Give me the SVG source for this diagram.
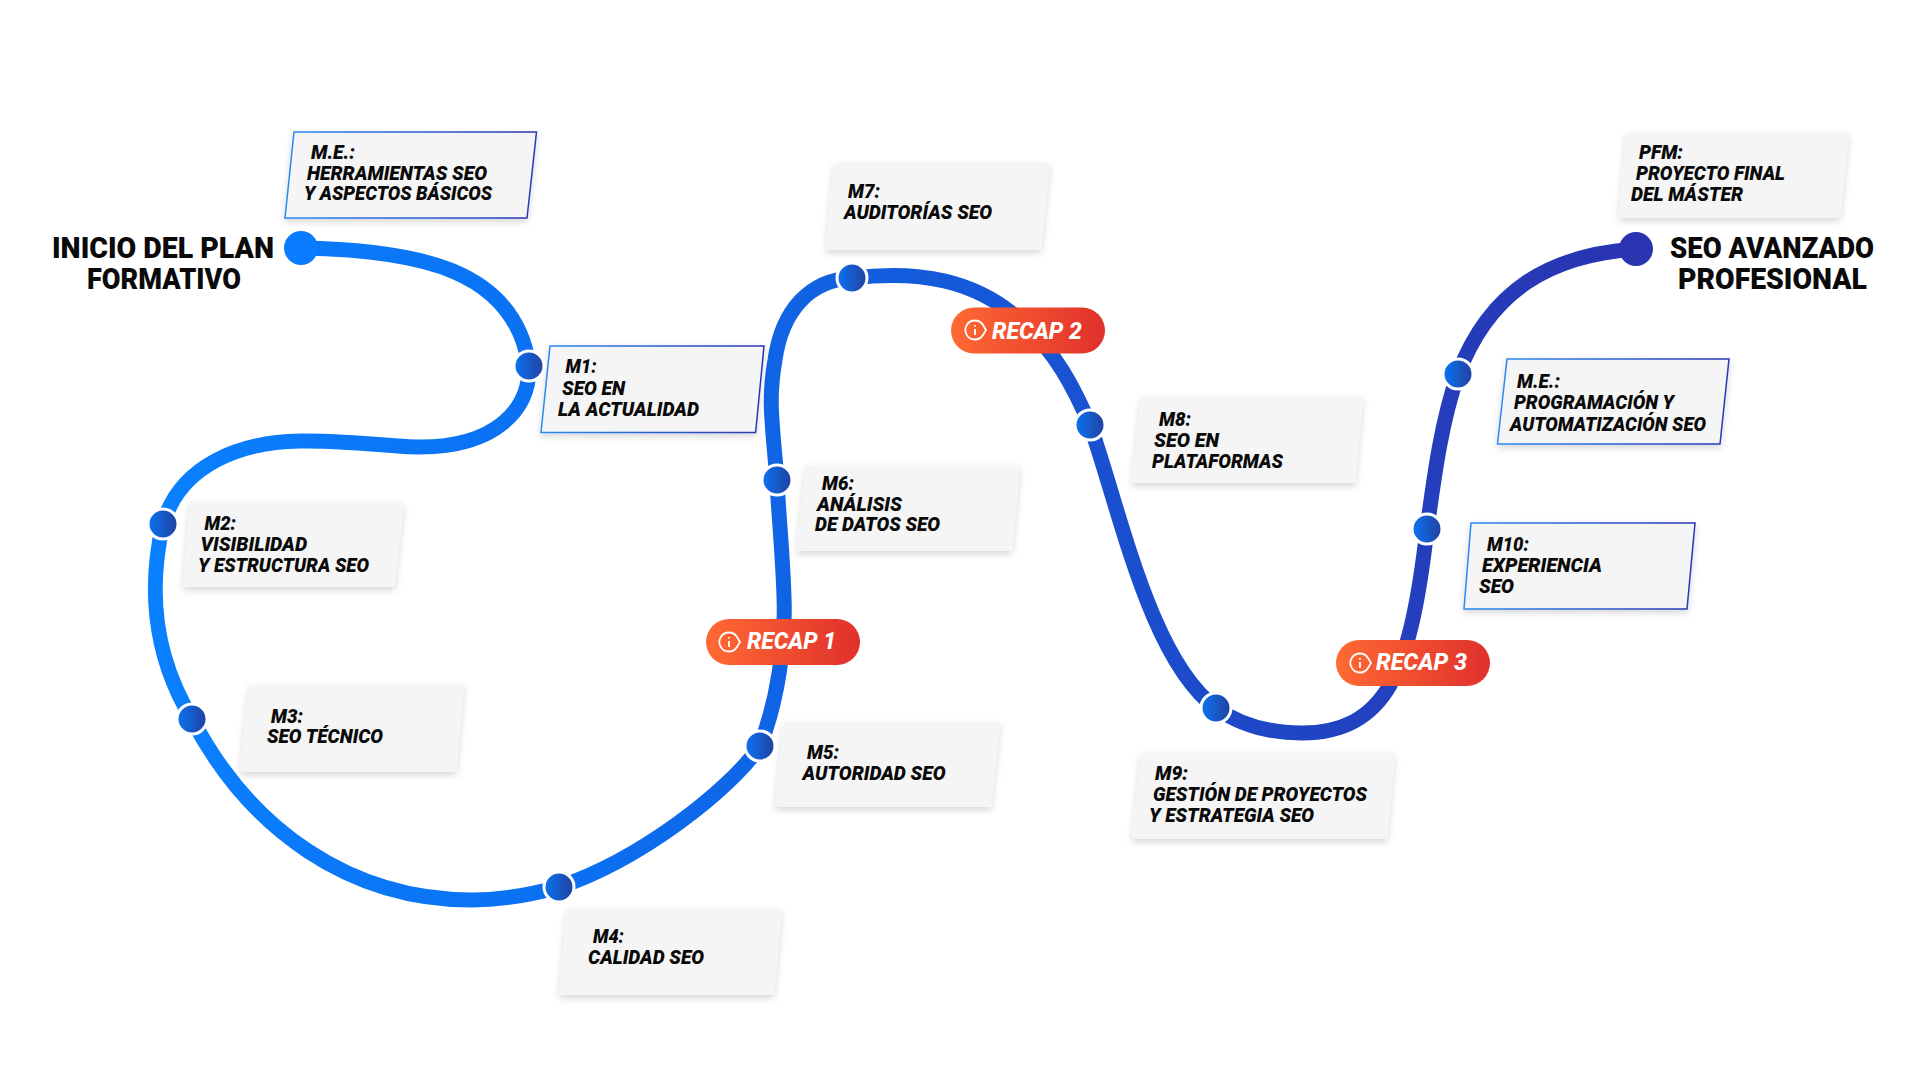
<svg xmlns="http://www.w3.org/2000/svg" width="1921" height="1081" viewBox="0 0 1921 1081">
<style>
.bg{fill:#fff}
.card{fill:#f5f5f5;filter:url(#sh)}
.bd{fill:#f5f5f5;stroke:url(#bg);stroke-width:1.5;filter:url(#sh)}
.l{font-family:Roboto,"Liberation Sans",sans-serif;font-weight:900;font-style:italic;font-size:20px;fill:#0a0a0a}
.t{font-family:Roboto,"Liberation Sans",sans-serif;font-weight:900;font-size:29px;fill:#0a0a0a;text-anchor:start}
.r{font-family:Roboto,"Liberation Sans",sans-serif;font-weight:800;font-style:italic;font-size:23px;fill:#fff}
.dot{fill:url(#dg);stroke:#fff;stroke-width:3}
.pill{fill:url(#pg)}
.ic{fill:none;stroke:#fff;stroke-width:1.8}
</style>
<defs>
<linearGradient id="lg" gradientUnits="userSpaceOnUse" x1="150" y1="0" x2="1640" y2="0"><stop offset="0" stop-color="#0a80ff"/><stop offset=".3" stop-color="#0a6ff0"/><stop offset=".65" stop-color="#1a4fcf"/><stop offset="1" stop-color="#2a33b0"/></linearGradient>
<linearGradient id="dg" x1="0" y1="0" x2="1" y2="0"><stop offset="0" stop-color="#0a74f2"/><stop offset="1" stop-color="#23409f"/></linearGradient>
<linearGradient id="pg" x1="0" y1="0" x2="1" y2="0"><stop offset="0" stop-color="#ff6a33"/><stop offset="1" stop-color="#e0302c"/></linearGradient>
<linearGradient id="bg" x1="0" y1="0" x2="1" y2="0"><stop offset="0" stop-color="#2a8af0"/><stop offset="1" stop-color="#2a35b5"/></linearGradient>
<filter id="sh" x="-10%" y="-15%" width="120%" height="135%"><feDropShadow dx="0" dy="3" stdDeviation="3.5" flood-color="#000" flood-opacity=".16"/></filter>
</defs>
<rect class="bg" width="1921" height="1081"/>
<g id="connectors">
<path fill="none" stroke="url(#lg)" stroke-width="15" stroke-linecap="round" d="M301 248C420 250 515 270 529 366C530 410 495 447 420 447C390 447 350 440 300 441C240 442 180 465 163 524C150 580 150 650 192 719C250 830 350 900 472 900C500 900 530 895 559 887C640 860 730 790 760 746C770 720 782 680 784 620C786 590 778 510 777 480C772 420 768 400 775 360C782 310 810 280 852 278C920 270 975 280 1020 320C1055 350 1075 390 1090 425C1120 510 1150 660 1216 708C1240 725 1270 733 1302 733C1340 733 1370 720 1390 685C1410 650 1420 590 1427 529C1435 470 1442 420 1458 374C1490 290 1550 255 1636 249"/>
</g>
<g id="start"><circle cx="301" cy="248" r="17" fill="#0a7cff"/>
<text class="t" x="52" y="258" textLength="222" lengthAdjust="spacingAndGlyphs">INICIO DEL PLAN</text><text class="t" x="87" y="289" textLength="154" lengthAdjust="spacingAndGlyphs">FORMATIVO</text></g>
<g id="end"><circle cx="1636" cy="249" r="17" fill="#2a33b0"/>
<text class="t" x="1670" y="258" textLength="204" lengthAdjust="spacingAndGlyphs">SEO AVANZADO</text><text class="t" x="1678" y="289" textLength="189" lengthAdjust="spacingAndGlyphs">PROFESIONAL</text></g>
<g id="me1"><polygon class="bd" points="294,132 536.5,132 527,218 285,218"/>
<text class="l" x="311" y="159" textLength="44" lengthAdjust="spacingAndGlyphs">M.E.:</text><text class="l" x="307" y="180" textLength="180" lengthAdjust="spacingAndGlyphs">HERRAMIENTAS SEO</text><text class="l" x="304" y="200" textLength="188" lengthAdjust="spacingAndGlyphs">Y ASPECTOS BÁSICOS</text></g>
<g id="m1"><polygon class="bd" points="550,346 764,346 755.6,432.5 541,432.5"/><circle class="dot" cx="529" cy="366" r="15"/>
<text class="l" x="565.6" y="373" textLength="31" lengthAdjust="spacingAndGlyphs">M1:</text><text class="l" x="562" y="395" textLength="63" lengthAdjust="spacingAndGlyphs">SEO EN</text><text class="l" x="558" y="416" textLength="141" lengthAdjust="spacingAndGlyphs">LA ACTUALIDAD</text></g>
<g id="m2"><polygon class="card" points="190,502 404,502 394.5,587 183,587"/><circle class="dot" cx="163" cy="524" r="15"/>
<text class="l" x="204.5" y="530" textLength="31.5" lengthAdjust="spacingAndGlyphs">M2:</text><text class="l" x="200.6" y="551" textLength="106.6" lengthAdjust="spacingAndGlyphs">VISIBILIDAD</text><text class="l" x="198" y="572" textLength="171" lengthAdjust="spacingAndGlyphs">Y ESTRUCTURA SEO</text></g>
<g id="m3"><polygon class="card" points="249,685 464,685 456,772 240,772"/><circle class="dot" cx="192" cy="719" r="15"/>
<text class="l" x="271" y="722.5" textLength="32" lengthAdjust="spacingAndGlyphs">M3:</text><text class="l" x="267" y="743" textLength="116" lengthAdjust="spacingAndGlyphs">SEO TÉCNICO</text></g>
<g id="m4"><polygon class="card" points="567,909 782,909 774,995 559,995"/><circle class="dot" cx="559" cy="887" r="15"/>
<text class="l" x="593" y="943" textLength="31" lengthAdjust="spacingAndGlyphs">M4:</text><text class="l" x="588" y="964" textLength="116" lengthAdjust="spacingAndGlyphs">CALIDAD SEO</text></g>
<g id="m5"><polygon class="card" points="784,722 1000,722 991,807 775,807"/><circle class="dot" cx="760" cy="746" r="15"/>
<text class="l" x="807" y="759" textLength="32" lengthAdjust="spacingAndGlyphs">M5:</text><text class="l" x="802.5" y="780" textLength="143" lengthAdjust="spacingAndGlyphs">AUTORIDAD SEO</text></g>
<g id="recap1"><rect class="pill" x="706" y="619" width="154" height="46" rx="23"/>
<path class="ic" d="M729 632.5a9.5 9.5 0 0 1 8 4.5l3 5l-3 5a9.5 9.5 0 1 1-8-14.500z"/><path class="ic" d="M729 641v6M729 637v1.500"/>
<text class="r" x="747" y="649" textLength="89" lengthAdjust="spacingAndGlyphs">RECAP 1</text></g>
<g id="m6"><polygon class="card" points="806,465.500 1020,465.500 1012,551 797,551"/><circle class="dot" cx="777" cy="480" r="15"/>
<text class="l" x="822" y="490" textLength="32" lengthAdjust="spacingAndGlyphs">M6:</text><text class="l" x="817" y="510.500" textLength="85" lengthAdjust="spacingAndGlyphs">ANÁLISIS</text><text class="l" x="815" y="531" textLength="125" lengthAdjust="spacingAndGlyphs">DE DATOS SEO</text></g>
<g id="m7"><polygon class="card" points="834,163 1050,163 1041,250 826,250"/><circle class="dot" cx="852" cy="278" r="15"/>
<text class="l" x="848" y="198" textLength="32" lengthAdjust="spacingAndGlyphs">M7:</text><text class="l" x="844" y="219" textLength="148" lengthAdjust="spacingAndGlyphs">AUDITORÍAS SEO</text></g>
<g id="recap2"><rect class="pill" x="951" y="307.500" width="154" height="46" rx="23"/>
<path class="ic" d="M975 320.500a9.500 9.500 0 0 1 8 4.500l3 5l-3 5a9.500 9.500 0 1 1-8-14.500z"/><path class="ic" d="M975 329v6M975 325v1.500"/>
<text class="r" x="992" y="339" textLength="90" lengthAdjust="spacingAndGlyphs">RECAP 2</text></g>
<g id="m8"><polygon class="card" points="1141,397 1363,397 1355,483 1132,483"/><circle class="dot" cx="1090" cy="425" r="15"/>
<text class="l" x="1159" y="426" textLength="32" lengthAdjust="spacingAndGlyphs">M8:</text><text class="l" x="1154" y="447" textLength="65" lengthAdjust="spacingAndGlyphs">SEO EN</text><text class="l" x="1152" y="468" textLength="131" lengthAdjust="spacingAndGlyphs">PLATAFORMAS</text></g>
<g id="m9"><polygon class="card" points="1141,753 1395,753 1387,839 1132,839"/><circle class="dot" cx="1216" cy="708" r="15"/>
<text class="l" x="1155" y="780" textLength="33" lengthAdjust="spacingAndGlyphs">M9:</text><text class="l" x="1153" y="801" textLength="214" lengthAdjust="spacingAndGlyphs">GESTIÓN DE PROYECTOS</text><text class="l" x="1149" y="822" textLength="165" lengthAdjust="spacingAndGlyphs">Y ESTRATEGIA SEO</text></g>
<g id="recap3"><rect class="pill" x="1336" y="640" width="154" height="46" rx="23"/>
<path class="ic" d="M1360 653.500a9.500 9.500 0 0 1 8 4.500l3 5l-3 5a9.500 9.500 0 1 1-8-14.500z"/><path class="ic" d="M1360 662v6M1360 658v1.500"/>
<text class="r" x="1376" y="670" textLength="91" lengthAdjust="spacingAndGlyphs">RECAP 3</text></g>
<g id="m10"><polygon class="bd" points="1471,523 1695,523 1687,609 1464,609"/><circle class="dot" cx="1427" cy="529" r="15"/>
<text class="l" x="1487" y="551" textLength="42" lengthAdjust="spacingAndGlyphs">M10:</text><text class="l" x="1482" y="572" textLength="120" lengthAdjust="spacingAndGlyphs">EXPERIENCIA</text><text class="l" x="1479" y="593" textLength="35" lengthAdjust="spacingAndGlyphs">SEO</text></g>
<g id="me2"><polygon class="bd" points="1507,359 1729,359 1720,444 1497.500,444"/><circle class="dot" cx="1458" cy="374" r="15"/>
<text class="l" x="1517" y="388" textLength="43" lengthAdjust="spacingAndGlyphs">M.E.:</text><text class="l" x="1514" y="409" textLength="160" lengthAdjust="spacingAndGlyphs">PROGRAMACIÓN Y</text><text class="l" x="1510" y="431" textLength="196" lengthAdjust="spacingAndGlyphs">AUTOMATIZACIÓN SEO</text></g>
<g id="pfm"><polygon class="card" points="1626,133 1849,133 1840,218 1619,218"/>
<text class="l" x="1639" y="159" textLength="44" lengthAdjust="spacingAndGlyphs">PFM:</text><text class="l" x="1636" y="180" textLength="149" lengthAdjust="spacingAndGlyphs">PROYECTO FINAL</text><text class="l" x="1631" y="201" textLength="112" lengthAdjust="spacingAndGlyphs">DEL MÁSTER</text></g>
</svg>
